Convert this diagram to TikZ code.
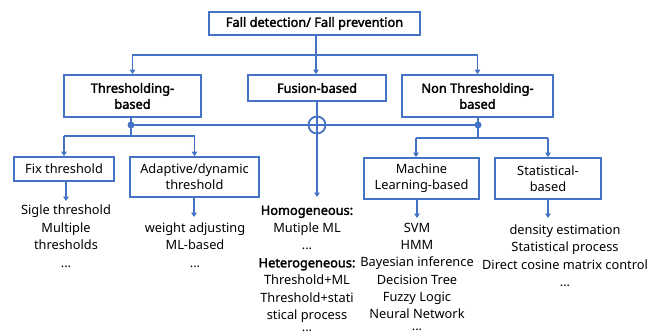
\documentclass[tikz,border=0pt]{standalone}
\usepackage{fontspec}
\setmainfont{Noto Sans}[AutoFakeBold=2.2]
\usetikzlibrary{arrows.meta}
\definecolor{lb}{HTML}{4472C4}
\begin{document}
\begin{tikzpicture}[x=1pt,y=-1pt,
  box/.style={draw=lb,line width=1.8pt,fill=white,inner sep=0pt,align=center,font=\fontsize{12.8}{16}\selectfont},
  bbox/.style={box,font=\fontsize{12.8}{16}\selectfont\bfseries},
  conn/.style={draw=lb,line width=1.8pt},
  arr/.style={conn,-{Triangle[width=5.5pt,length=4.5pt]}},
  lst/.style={anchor=north,inner sep=0pt,align=center,font=\fontsize{12.8}{17.5}\selectfont},
  dotn/.style={circle,fill=lb,inner sep=0pt,minimum size=7pt}]
\useasboundingbox (0,0) rectangle (667,335);
% boxes
\node[bbox,minimum width=211pt,minimum height=23pt] (top) at (314.5,23.5) {Fall detection/ Fall prevention};
\node[bbox,minimum width=137pt,minimum height=42pt] (thr) at (132.5,96) {Thresholding-\\based};
\node[bbox,minimum width=138pt,minimum height=26pt] (fus) at (317,88) {Fusion-based};
\node[bbox,minimum width=151pt,minimum height=42pt] (non) at (477.5,96) {Non Thresholding-\\based};
\node[box,minimum width=100pt,minimum height=24pt] (fix) at (64,169) {Fix threshold};
\node[box,minimum width=129pt,minimum height=40pt] (ada) at (194.5,177) {Adaptive/dynamic\\threshold};
\node[box,minimum width=115pt,minimum height=41pt] (ml) at (421.5,178.5) {Machine\\Learning-based};
\node[box,minimum width=106pt,minimum height=41pt] (st) at (548,178.5) {Statistical-\\based};
% thicker edge segments
\draw[lb,line width=2.8pt] (77,75) -- (190,75);
\draw[lb,line width=2.8pt] (525,75) -- (553,75);
\draw[lb,line width=2.8pt] (449,117) -- (507,117);
% top connectors
\coordinate (tb) at (316,55);
\draw[conn] (top.south -| tb) -- (tb);
\draw[arr] (tb) -| (thr.north);
\draw[arr] (tb) -| (non.north);
\draw[arr] (tb) -- (fus.north -| tb);
% middle bus
\coordinate (j1) at (131,125);
\coordinate (pl) at (317,125);
\coordinate (j2) at (478,125);
\draw[conn] (thr.south -| j1) -- (j1);
\draw[conn] (non.south -| j2) -- (j2);
\draw[conn] (j1) -- (j2);
\coordinate (fz) at (317,197);
\draw[arr] (fus.south -| pl) -- (fz);
\node[circle,draw=lb,line width=1.8pt,minimum size=17pt,inner sep=0pt] (plus) at (pl) {};
\node[dotn] at (j1) {};
\node[dotn] at (j2) {};
% left branch
\coordinate (lb1) at (131,136);
\draw[conn] (j1) -- (lb1);
\draw[conn] (fix.north |- lb1) -- (ada.north |- lb1);
\draw[arr] (fix.north |- lb1) -- (fix.north);
\draw[arr] (ada.north |- lb1) -- (ada.north);
% right branch
\coordinate (rb1) at (478,138);
\draw[conn] (j2) -- (rb1);
\draw[conn] (416,138) coordinate (rl) -- (548,138) coordinate (rr);
\draw[arr] (rl) -- (rl |- ml.north);
\draw[arr] (rr) -- (rr |- st.north);
% lower arrows
\coordinate (fa) at (66,201);
\coordinate (aa) at (194,217);
\coordinate (ma) at (417,218);
\coordinate (sa) at (548,218);
\draw[arr] (fa |- fix.south) -- (fa);
\draw[arr] (aa |- ada.south) -- (aa);
\draw[arr] (ma |- ml.south) -- (ma);
\draw[arr] (sa |- st.south) -- (sa);
% lists
\node[lst] (fl) at (66,205) {Sigle threshold\\Multiple\\thresholds\\...};
\node[lst] (al) at (195,222.5) {weight adjusting\\ML-based\\...};
\node[lst,font=\fontsize{12.8}{17.2}\selectfont] (mll) at (417,223) {SVM\\HMM\\Bayesian inference\\Decision Tree\\Fuzzy Logic\\Neural Network\\[-5.2pt]...};
\node[lst] (sl) at (565,224.5) {density estimation\\Statistical process\\Direct cosine matrix control\\...};
\node[lst] (ful) at (307,205.5) {\textbf{Homogeneous:}\\Mutiple ML\\...\\\textbf{Heterogeneous:}\\Threshold+ML\\Threshold+stati\\stical process\\[-6pt]...};
\end{tikzpicture}
\end{document}
